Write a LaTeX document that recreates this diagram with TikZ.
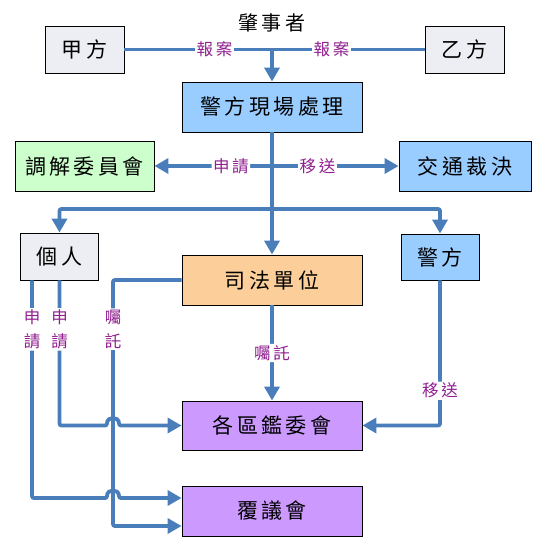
\documentclass[tikz,border=0pt]{standalone}
\usepackage{fontspec}
\newfontfamily\cjk[LetterSpace=16]{Noto Sans CJK TC}
\usetikzlibrary{arrows.meta}
\definecolor{flow}{HTML}{4A7EBB}
\definecolor{lbltext}{HTML}{902090}
\definecolor{partyfill}{HTML}{EDEEF3}
\definecolor{mediatefill}{HTML}{CCFFCC}
\definecolor{policefill}{HTML}{99CCFF}
\definecolor{courtfill}{HTML}{FCCE9A}
\definecolor{boardfill}{HTML}{CC99FF}

\begin{document}
\begin{tikzpicture}[x=1pt,y=-1pt,
    box/.style={draw=black,line width=0.9pt,inner sep=0pt,font=\cjk\fontsize{21}{24}\selectfont},
    wire/.style={draw=flow,line width=3.8pt,rounded corners=2pt},
    arr/.style={wire,-{Triangle[width=15pt,length=14pt]}},
    lbl/.style={fill=white,text=lbltext,inner sep=1.5pt,font=\cjk\fontsize{16.5}{24}\selectfont},
    vlbl/.style={lbl,align=center}]
    \useasboundingbox (0,0) rectangle (544,548);

    \node[font=\cjk\fontsize{20}{22}\selectfont] (driver) at (272,23) {肇事者};
    \node[box,fill=partyfill,minimum width=79pt,minimum height=47pt] (jia) at (84.5,49.5) {甲方};
    \node[box,fill=partyfill,minimum width=79pt,minimum height=47pt] (yi) at (464.5,49.5) {乙方};
    \node[box,fill=policefill,minimum width=180pt,minimum height=50pt] (scene) at (272,107) {警方現場處理};
    \node[box,fill=mediatefill,minimum width=139pt,minimum height=50pt] (tiaojie) at (84.5,166) {調解委員會};
    \node[box,fill=policefill,minimum width=132pt,minimum height=50pt] (caijue) at (465,166) {交通裁決};
    \node[box,fill=partyfill,minimum width=78pt,minimum height=47pt] (geren) at (59.5,256.5) {個人};
    \node[box,fill=policefill,minimum width=78pt,minimum height=46pt] (jingfang) at (440,257) {警方};
    \node[box,fill=courtfill,minimum width=180pt,minimum height=50pt] (sifa) at (272,280) {司法單位};
    \node[box,fill=boardfill,minimum width=180pt,minimum height=49pt] (jianwei) at (272,425.5) {各區鑑委會};
    \node[box,fill=boardfill,minimum width=180pt,minimum height=50pt] (fuyi) at (272,511) {覆議會};

    \coordinate (report) at (272,49.5);
    \coordinate (fork) at (272,166);
    \coordinate (split) at (272,209);

    \draw[wire] (jia) -- node[lbl,pos=0.3]{報案} node[lbl,pos=0.69]{報案} (yi);
    \draw[arr] (report) -- (scene);
    \draw[arr] (scene) -- (sifa);
    \draw[arr] (fork) -- node[lbl,pos=0.35]{申請} (tiaojie);
    \draw[arr] (fork) -- node[lbl,pos=0.36]{移送} (caijue);
    \draw[arr] (split) -| (geren);
    \draw[arr] (split) -| (jingfang);

    \draw[arr] (sifa) -- node[lbl]{囑託} (jianwei);
    \draw[arr] (jingfang) |- node[lbl,pos=0.38]{移送} (jianwei);
    \draw[arr] (sifa.west) -- (113,280) -- node[vlbl,pos=0.2]{囑\\託} (113,526) -- ([yshift=-15pt]fuyi.west);
    \draw[arr] (geren.south) -- node[vlbl,pos=0.337]{申\\請} (59.5,425.5) -- (107,425.5)
        .. controls (107,416) and (119,416) .. (119,425.5) -- (jianwei.west);
    \draw[arr] ([xshift=-27.5pt]geren.south) -- node[vlbl,pos=0.225]{申\\請} (32,498) -- (107,498)
        .. controls (107,488.5) and (119,488.5) .. (119,498) -- ([yshift=13pt]fuyi.west);
\end{tikzpicture}
\end{document}
